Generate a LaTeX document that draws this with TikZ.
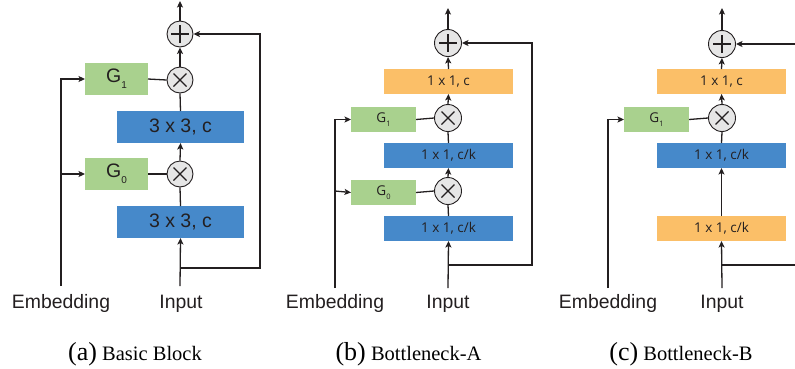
\documentclass[tikz,border=0pt]{standalone}
\usepackage{fontspec}
\setmainfont{Liberation Serif}
\setsansfont{Liberation Sans}
\newfontfamily\boxfont{Open Sans}
\usetikzlibrary{arrows.meta,calc}
\definecolor{lineclr}{HTML}{231F20}
\definecolor{gbox}{HTML}{A9D18E}
\definecolor{bbox}{HTML}{4689CA}
\definecolor{obox}{HTML}{FBBF68}
\definecolor{circfill}{HTML}{E6E6E6}
\tikzset{
  conn/.style={draw=lineclr, line width=1.3pt},
  arr/.style={conn, -{Stealth[length=6.5pt,width=6pt,inset=1.5pt]}},
  opcirc/.style={circle, draw=lineclr, line width=0.9pt, fill=circfill, inner sep=0pt},
  blk/.style={inner sep=0pt, outer sep=0pt, text=lineclr},
  lab/.style={inner sep=0pt, text=lineclr, font=\sffamily\fontsize{19.4}{20}\selectfont, anchor=base},
  captxt/.style={inner sep=0pt, anchor=base, text=black},
}
\newcommand{\plussign}[2]{\draw[lineclr, line width=1.2pt] ($(#1)+(-#2,0)$) -- ($(#1)+(#2,0)$) ($(#1)+(0,-#2)$) -- ($(#1)+(0,#2)$);}
\newcommand{\timessign}[2]{\draw[lineclr, line width=1.2pt] ($(#1)+(-#2,-#2)$) -- ($(#1)+(#2,#2)$) ($(#1)+(-#2,#2)$) -- ($(#1)+(#2,-#2)$);}
\newcommand{\Gsa}[1]{G\raisebox{-0.55ex}{\fontsize{10}{10}\selectfont #1}}
\newcommand{\Gsb}[1]{G\raisebox{-0.5ex}{\fontsize{7.5}{8}\selectfont #1}}
\begin{document}
\begin{tikzpicture}[x=1pt, y=-1pt]
\useasboundingbox (0,0) rectangle (795,368);
% ================= Panel (a) =================
\begin{scope}[every node/.append style={font=\sffamily\fontsize{19.5}{20}\selectfont}]
\node[blk, fill=bbox, minimum width=127pt, minimum height=32pt] (a1) at (180.5,222) {3 x 3, c};
\node[blk, fill=bbox, minimum width=127pt, minimum height=32pt] (a2) at (180.5,127) {3 x 3, c};
\node[blk, fill=gbox, minimum width=63pt, minimum height=32pt] (ag0) at (116.5,174) {\Gsa{0}};
\node[blk, fill=gbox, minimum width=63pt, minimum height=32pt] (ag1) at (116.5,79) {\Gsa{1}};
\end{scope}
\node[opcirc, minimum size=26pt] (am0) at (180,174) {};
\node[opcirc, minimum size=26pt] (am1) at (180,80) {};
\node[opcirc, minimum size=26pt] (aplus) at (180,34) {};
\timessign{am0}{6.5}
\timessign{am1}{6.5}
\plussign{aplus}{9}
\node[lab] (aemb) at (61,308) {Embedding};
\node[lab] (ain) at (181,308) {Input};
\coordinate (aembb) at (61,286);
\coordinate (ainb) at (180,286);
\coordinate (abr) at (180,268);
\coordinate (aout) at (180,1);
\draw[arr] (aembb) |- (ag1.west);
\draw[arr] (61,174) -- (ag0.west);
\draw[arr] (ainb) -- (a1.south);
\draw[conn] (a1.north) -- (am0.south);
\draw[conn] (ag0.east) -- (am0.west);
\draw[arr] (am0.north) -- (a2.south);
\draw[conn] (a2.north) -- (am1.south);
\draw[conn] (ag1.east) -- (am1.west);
\draw[arr] (am1.north) -- (aplus.south);
\draw[arr] (aplus.north) -- (aout);
\draw[arr] (abr) -| (260,34) -- (aplus.east);
% ================= Panel (b) =================
\begin{scope}[every node/.append style={font=\boxfont\fontsize{13.5}{14}\selectfont}]
\node[blk, fill=bbox, minimum width=129pt, minimum height=25pt] (b1) at (448.5,228.5) {1 x 1, c/k};
\node[blk, fill=bbox, minimum width=129pt, minimum height=25pt] (b2) at (448.5,155.5) {1 x 1, c/k};
\node[blk, fill=obox, minimum width=129pt, minimum height=25pt] (b3) at (448.5,81.5) {1 x 1, c};
\node[blk, fill=gbox, minimum width=65pt, minimum height=25pt] (bg0) at (383.5,192.5) {\Gsb{0}};
\node[blk, fill=gbox, minimum width=65pt, minimum height=25pt] (bg1) at (383.5,119.5) {\Gsb{1}};
\end{scope}
\node[opcirc, minimum size=27pt] (bm0) at (448,191) {};
\node[opcirc, minimum size=27pt] (bm1) at (448,118) {};
\node[opcirc, minimum size=27pt] (bplus) at (448,43) {};
\timessign{bm0}{6.5}
\timessign{bm1}{6.5}
\plussign{bplus}{9}
\node[lab] (bemb) at (335,308) {Embedding};
\node[lab] (bin) at (448,308) {Input};
\coordinate (bembb) at (335,288);
\coordinate (binb) at (448,288);
\coordinate (bbr) at (448,265);
\coordinate (bout) at (448,8);
\draw[arr] (bembb) |- (bg1.west);
\draw[arr] (335,191) -- (bg0.west);
\draw[arr] (binb) -- (b1.south);
\draw[conn] (b1.north) -- (bm0.south);
\draw[conn] (bg0.east) -- (bm0.west);
\draw[arr] (bm0.north) -- (b2.south);
\draw[conn] (b2.north) -- (bm1.south);
\draw[conn] (bg1.east) -- (bm1.west);
\draw[arr] (bm1.north) -- (b3.south);
\draw[arr] (b3.north) -- (bplus.south);
\draw[arr] (bplus.north) -- (bout);
\draw[arr] (bbr) -| (532,43) -- (bplus.east);
% ================= Panel (c) =================
\begin{scope}[every node/.append style={font=\boxfont\fontsize{13.5}{14}\selectfont}]
\node[blk, fill=obox, minimum width=129pt, minimum height=25pt] (c1) at (721.5,228.5) {1 x 1, c/k};
\node[blk, fill=bbox, minimum width=129pt, minimum height=25pt] (c2) at (721.5,155.5) {1 x 1, c/k};
\node[blk, fill=obox, minimum width=129pt, minimum height=25pt] (c3) at (721.5,81.5) {1 x 1, c};
\node[blk, fill=gbox, minimum width=65pt, minimum height=25pt] (cg1) at (656.5,119.5) {\Gsb{1}};
\end{scope}
\node[opcirc, minimum size=27pt] (cm1) at (722,118) {};
\node[opcirc, minimum size=27pt] (cplus) at (722,44) {};
\timessign{cm1}{6.5}
\plussign{cplus}{9}
\node[lab] (cemb) at (608,308) {Embedding};
\node[lab] (cin) at (722,308) {Input};
\coordinate (cembb) at (608,288);
\coordinate (cinb) at (722,288);
\coordinate (cbr) at (722,265);
\coordinate (cout) at (722,8);
\coordinate (cfbr) at (796,265);
\coordinate (cfbt) at (796,44);
\draw[arr] (cembb) |- (cg1.west);
\draw[arr] (cinb) -- (c1.south);
\draw[arr] (c1.north) -- (c2.south);
\draw[conn] (c2.north) -- (cm1.south);
\draw[conn] (cg1.east) -- (cm1.west);
\draw[arr] (cm1.north) -- (c3.south);
\draw[arr] (c3.north) -- (cplus.south);
\draw[arr] (cplus.north) -- (cout);
\draw[conn] (cbr) -- (cfbr);
\draw[arr] (cfbt) -- (cplus.east);
% ================= Captions =================
\node[captxt] (capa) at (135,360) {\fontsize{26}{28}\selectfont(a)\fontsize{20.5}{22}\selectfont{} Basic Block};
\node[captxt] (capb) at (408.5,360) {\fontsize{26}{28}\selectfont(b)\fontsize{20.5}{22}\selectfont{} Bottleneck-A};
\node[captxt] (capc) at (681,360) {\fontsize{26}{28}\selectfont(c)\fontsize{20.5}{22}\selectfont{} Bottleneck-B};
\end{tikzpicture}
\end{document}
